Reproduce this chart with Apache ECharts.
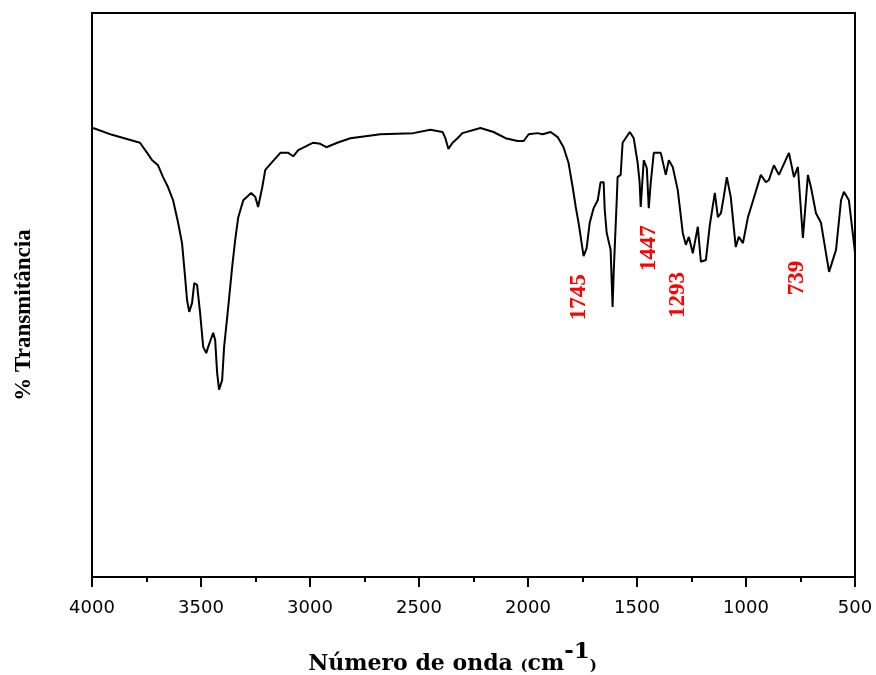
<!DOCTYPE html>
<html><head><meta charset="utf-8">
<script src="https://cdn.jsdelivr.net/npm/echarts@6/dist/echarts.min.js"></script>
<style>html,body{margin:0;padding:0;background:#fff}#c{width:876px;height:675px}</style>
</head><body><div id="c"></div>
<script>
// Wavenumbers (cm-1) and transmittance (arbitrary %)
const wavenumber = [3995,3908,3780,3747,3724,3697,3674,3651,3628,3605,3587,3573,3564,3554,3541,3531,3518,3504,3490,3476,3467,3444,3435,3426,3417,3403,3394,3375,3357,3343,3329,3306,3270,3251,3238,3219,3205,3173,3136,3100,3077,3054,2985,2953,2925,2875,2815,2737,2677,2526,2448,2392,2379,2365,2346,2323,2301,2218,2158,2103,2048,2020,1997,1956,1933,1896,1864,1837,1814,1795,1781,1768,1754,1745,1731,1717,1699,1680,1667,1653,1648,1639,1630,1621,1612,1607,1593,1589,1575,1566,1533,1515,1497,1488,1483,1474,1469,1455,1446,1437,1423,1391,1368,1354,1336,1313,1290,1276,1262,1244,1221,1207,1184,1166,1143,1129,1115,1102,1088,1070,1047,1033,1014,991,964,932,909,895,872,849,803,780,762,739,716,702,679,656,619,587,564,551,528,505,500];
const transmittance = [79.6,78.4,77.0,75.2,73.9,73.0,70.9,69.1,66.8,62.8,59.2,53.2,49.1,47.0,48.6,52.1,51.8,46.8,40.8,39.7,40.8,43.3,42.0,36.2,33.2,34.9,40.8,47.9,55.0,59.8,63.8,66.8,68.1,67.4,65.6,69.1,72.2,73.6,75.2,75.2,74.6,75.7,77.0,76.8,76.2,77.0,77.8,78.2,78.5,78.7,79.3,78.9,77.8,75.9,77.0,77.8,78.7,79.6,78.9,77.8,77.3,77.3,78.5,78.7,78.5,78.9,78.0,76.2,73.4,69.1,65.6,62.8,59.2,56.9,58.3,62.8,65.4,66.8,70.0,70.0,65.1,61.0,61.2,58.0,47.9,53.9,66.8,70.9,71.3,77.0,78.9,77.8,73.4,70.0,65.6,65.6,73.9,72.5,65.4,69.9,75.2,75.2,71.3,73.9,72.7,68.6,61.0,58.9,60.3,57.4,62.1,55.9,56.2,62.4,68.1,63.8,64.5,67.4,70.9,67.4,58.5,60.3,59.2,63.8,67.2,71.3,70.0,70.4,73.0,71.3,75.2,70.9,72.7,60.1,71.3,69.1,64.5,62.8,54.1,58.0,66.8,68.3,66.8,59.2,57.5];
// Peak annotations: label text, x position (cm-1), y position (transmittance units)
const peakLabels = ['1745','1447','1293','739'];
const peakLabelX = [1768,1446,1313,766];
const peakLabelY = [49.6,58.3,50.0,53.0];
const xTicks = [4000,3500,3000,2500,2000,1500,1000,500];

const chart = echarts.init(document.getElementById('c'));
const lineData = wavenumber.map((w,i)=>[w,transmittance[i]]);
const labelData = peakLabels.map((t,i)=>({name:t,value:[peakLabelX[i],peakLabelY[i]]}));
chart.setOption({
  animation:false,
  grid:{left:92,right:21,top:13,bottom:98,containLabel:false,outerBoundsMode:'none',show:true,borderColor:'#000',borderWidth:2,backgroundColor:'transparent'},
  xAxis:{type:'value',min:500,max:4000,interval:500,inverse:true,
    axisLine:{show:true,onZero:false,lineStyle:{color:'#000',width:2}},
    axisTick:{show:true,inside:false,length:10,lineStyle:{color:'#000',width:2}},
    minorTick:{show:true,splitNumber:2,length:5,lineStyle:{color:'#000',width:2}},
    splitLine:{show:false},
    axisLabel:{color:'#000',fontFamily:'DejaVu Sans',fontSize:18,margin:22,
      formatter:v=>xTicks.includes(v)?String(v):''},
    name:'{a|Número de onda }{b|(}{a|cm}{s|-1}{b|)}',nameLocation:'middle',nameGap:64,
    nameTextStyle:{padding:[0,42,0,0],rich:{
      a:{fontFamily:'DejaVu Serif',fontWeight:'bold',fontSize:22,color:'#000'},
      b:{fontFamily:'DejaVu Serif',fontWeight:'bold',fontSize:15,color:'#000',padding:[4,0,0,0]},
      s:{fontFamily:'DejaVu Serif',fontWeight:'bold',fontSize:23,color:'#000',padding:[0,0,24,0]}
    }}
  },
  yAxis:{type:'value',min:0,max:100,
    axisLine:{show:true,lineStyle:{color:'#000',width:2}},
    axisTick:{show:false},axisLabel:{show:false},splitLine:{show:false},
    name:'% Transmitância',nameLocation:'middle',nameGap:56,
    nameTextStyle:{fontFamily:'Liberation Serif',fontWeight:'bold',fontSize:23,color:'#000',padding:[0,0,0,-40]}
  },
  series:[
    {type:'line',data:lineData,showSymbol:false,smooth:false,lineStyle:{color:'#000',width:2},silent:true},
    {type:'scatter',data:labelData,symbolSize:0,silent:true,itemStyle:{opacity:1},
      label:{show:true,position:'inside',rotate:90,formatter:p=>p.name,color:'#ff0000',opacity:1,
        fontFamily:'Liberation Serif',fontWeight:'bold',fontSize:23}}
  ]
});
</script></body></html>
